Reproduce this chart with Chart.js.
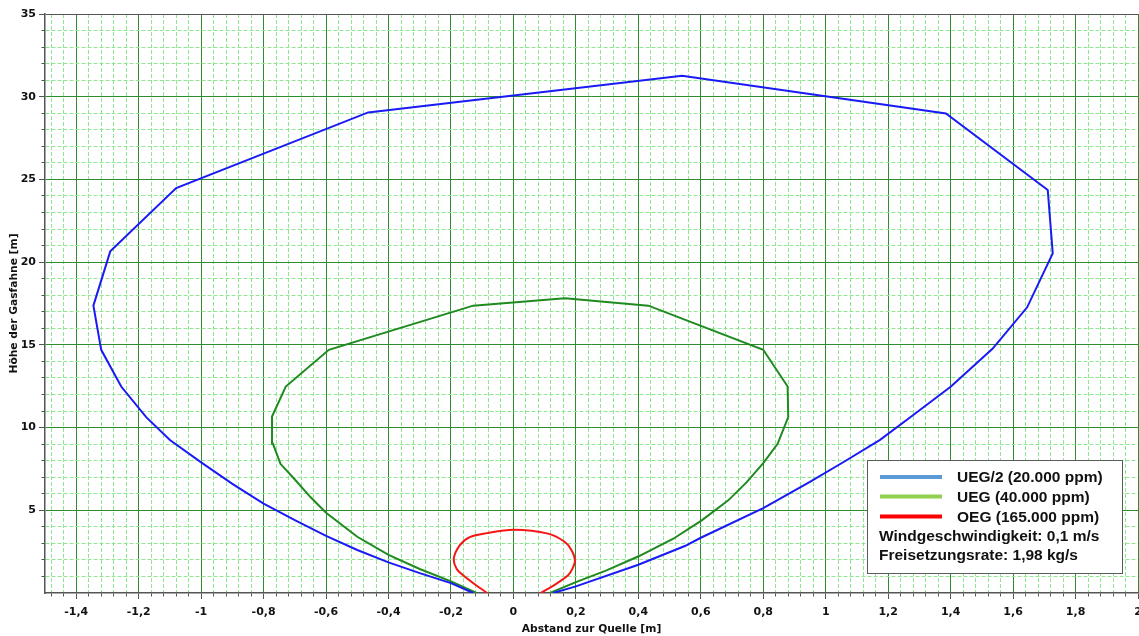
<!DOCTYPE html>
<html>
<head>
<meta charset="utf-8">
<script src="https://cdn.jsdelivr.net/npm/chart.js@4.4.1/dist/chart.umd.min.js"></script>
<style>
  html, body { margin: 0; padding: 0; background: #ffffff; }
  canvas { display: block; }
</style>
</head>
<body>
<canvas id="plume" width="1139" height="636"></canvas>
<script>
// Contours of the gas plume: x = distance to source [m], y = plume height [m]
const uegHalfX = [-0.129, -0.2, -0.3, -0.4, -0.5, -0.6, -0.7, -0.8, -0.9, -1.0, -1.1, -1.176, -1.256, -1.320, -1.345, -1.291, -1.080, -0.465, 0.540, 1.385, 1.711, 1.727, 1.645, 1.534, 1.401, 1.274, 1.174, 1.06, 0.948, 0.8, 0.6, 0.549, 0.4, 0.2, 0.127];
const uegHalfY = [0, 0.6, 1.2, 1.85, 2.6, 3.45, 4.4, 5.4, 6.6, 7.9, 9.25, 10.63, 12.48, 14.70, 17.37, 20.65, 24.48, 29.05, 31.26, 28.99, 24.36, 20.53, 17.27, 14.76, 12.48, 10.67, 9.26, 7.95, 6.70, 5.13, 3.34, 2.84, 1.71, 0.40, 0];

const uegX = [-0.118, -0.2, -0.3, -0.4, -0.5, -0.6, -0.65, -0.7, -0.746, -0.770, -0.773, -0.729, -0.591, -0.129, 0.165, 0.432, 0.800, 0.878, 0.880, 0.846, 0.800, 0.747, 0.688, 0.603, 0.512, 0.401, 0.298, 0.2, 0.117];
const uegY = [0, 0.7, 1.45, 2.3, 3.4, 4.85, 5.8, 6.86, 7.81, 9.02, 10.67, 12.48, 14.70, 17.37, 17.82, 17.37, 14.70, 12.48, 10.63, 9.02, 7.85, 6.70, 5.60, 4.39, 3.28, 2.22, 1.37, 0.66, 0];

const oegX = [-0.084, -0.124, -0.161, -0.182, -0.191, -0.172, -0.14, -0.086, 0, 0.111, 0.165, 0.186, 0.197, 0.189, 0.175, 0.138, 0.087];
const oegY = [0, 0.53, 1.07, 1.47, 2.08, 2.88, 3.38, 3.62, 3.83, 3.59, 3.08, 2.58, 1.97, 1.47, 1.07, 0.57, 0];

const seriesLabels = ['UEG/2 (20.000 ppm)', 'UEG (40.000 ppm)', 'OEG (165.000 ppm)'];
const infoLines = ['Windgeschwindigkeit: 0,1 m/s', 'Freisetzungsrate: 1,98 kg/s'];

// Axis ticks
const xMajorTicks = [-1.4, -1.2, -1, -0.8, -0.6, -0.4, -0.2, 0, 0.2, 0.4, 0.6, 0.8, 1, 1.2, 1.4, 1.6, 1.8, 2];
const xTickLabels = ['-1,4', '-1,2', '-1', '-0,8', '-0,6', '-0,4', '-0,2', '0', '0,2', '0,4', '0,6', '0,8', '1', '1,2', '1,4', '1,6', '1,8', '2'];
const yMajorTicks = [5, 10, 15, 20, 25, 30, 35];
const yTickLabels = ['5', '10', '15', '20', '25', '30', '35'];

// minor subdivisions: 0.04 m horizontally, 1 m vertically
const xMinorTicks = [];
for (let i = -37; i <= 50; i++) xMinorTicks.push(+(i * 0.04).toFixed(2));
const yMinorTicks = [];
for (let i = 1; i <= 35; i++) yMinorTicks.push(i);

const toPoints = (xs, ys) => xs.map((x, i) => ({ x, y: ys[i] }));
const majorIndex = (list, v) => list.findIndex(t => Math.abs(t - v) < 1e-6);

const MAJOR_GRID = '#2f8c2f';
const MINOR_GRID = '#92e592';
const AXIS_GREY = '#555555';
const TICK_FONT = { family: '"DejaVu Sans", sans-serif', size: 11, weight: 'bold' };
const TITLE_FONT = { family: '"DejaVu Sans", sans-serif', size: 10.7, weight: 'bold' };

function gridFor(majors, maxVal) {
  return {
    color: ctx => {
      if (!ctx.tick) return MINOR_GRID;
      if (Math.abs(ctx.tick.value - maxVal) < 1e-6) return AXIS_GREY;
      return majorIndex(majors, ctx.tick.value) >= 0 ? MAJOR_GRID : MINOR_GRID;
    },
    lineWidth: 1,
    tickColor: AXIS_GREY,
    tickLength: 6,
    tickWidth: 1
  };
}

const legendPlugin = {
  id: 'plumeLegend',
  afterDraw(chart) {
    const { ctx } = chart;
    const colors = ['#5b9bd5', '#92d050', '#ff0000'];
    const bx = 867.5, by = 460.5, bw = 255, bh = 113;
    ctx.save();
    ctx.fillStyle = '#ffffff';
    ctx.fillRect(bx, by, bw, bh);
    ctx.strokeStyle = '#5a5a5a';
    ctx.lineWidth = 1;
    ctx.strokeRect(bx, by, bw, bh);
    ctx.font = 'bold 15.5px "Liberation Sans", Arial, sans-serif';
    ctx.textBaseline = 'middle';
    ctx.fillStyle = '#111111';
    const rowY = [478, 497.5, 517.5, 537, 556];
    seriesLabels.forEach((label, i) => {
      ctx.strokeStyle = colors[i];
      ctx.lineWidth = 4;
      ctx.beginPath();
      ctx.moveTo(880, rowY[i] - 1);
      ctx.lineTo(942, rowY[i] - 1);
      ctx.stroke();
      ctx.fillText(label, 957, rowY[i]);
    });
    infoLines.forEach((line, i) => {
      ctx.fillText(line, 879, rowY[3 + i]);
    });
    ctx.restore();
  }
};

new Chart(document.getElementById('plume'), {
  type: 'scatter',
  data: {
    datasets: [
      { label: seriesLabels[0], data: toPoints(uegHalfX, uegHalfY), borderColor: '#1a1af5', borderWidth: 2, showLine: true, pointRadius: 0, tension: 0, fill: false },
      { label: seriesLabels[1], data: toPoints(uegX, uegY), borderColor: '#1f8a1f', borderWidth: 2, showLine: true, pointRadius: 0, tension: 0, fill: false },
      { label: seriesLabels[2], data: toPoints(oegX, oegY), borderColor: '#f51616', borderWidth: 2, showLine: true, pointRadius: 0, tension: 0.3, fill: false }
    ]
  },
  options: {
    responsive: false,
    animation: false,
    devicePixelRatio: 1,
    layout: { padding: { top: 14, right: 1, left: 0, bottom: 0 } },
    plugins: { legend: { display: false }, tooltip: { enabled: false } },
    scales: {
      x: {
        type: 'linear',
        min: -1.5,
        max: 2,
        afterBuildTicks: scale => { scale.ticks = xMinorTicks.map(v => ({ value: v })); },
        afterFit: scale => { scale.height = 43; scale.paddingLeft = 0; scale.paddingRight = 0; },
        ticks: {
          autoSkip: false,
          maxRotation: 0,
          padding: 7,
          color: '#111111',
          font: TICK_FONT,
          callback: v => { const i = majorIndex(xMajorTicks, v); return i >= 0 ? xTickLabels[i] : ''; }
        },
        grid: Object.assign(gridFor(xMajorTicks, 99), {
          tickBorderDash: ctx => (ctx.tick && majorIndex(xMajorTicks, ctx.tick.value) < 0) ? [3, 100] : []
        }),
        border: {
          color: AXIS_GREY,
          width: 1.5,
          dash: ctx => (ctx.tick && majorIndex(xMajorTicks, ctx.tick.value) < 0) ? [4, 2] : []
        },
        title: { display: true, text: 'Abstand zur Quelle [m]', color: '#111111', font: TITLE_FONT, padding: { top: 0, bottom: 0 } }
      },
      y: {
        type: 'linear',
        min: 0,
        max: 35,
        afterBuildTicks: scale => { scale.ticks = yMinorTicks.map(v => ({ value: v })); },
        afterFit: scale => { scale.width = 45; scale.paddingTop = 0; scale.paddingBottom = 0; },
        ticks: {
          autoSkip: false,
          padding: 3,
          color: '#111111',
          font: TICK_FONT,
          callback: v => { const i = majorIndex(yMajorTicks, v); return i >= 0 ? yTickLabels[i] : ''; }
        },
        grid: Object.assign(gridFor(yMajorTicks, 35), {
          tickBorderDash: ctx => (ctx.tick && majorIndex(yMajorTicks, ctx.tick.value) < 0) ? [0, 2.5, 4, 100] : []
        }),
        border: {
          color: AXIS_GREY,
          width: 1.5,
          dash: ctx => (ctx.tick && majorIndex(yMajorTicks, ctx.tick.value) < 0 && ctx.tick.value !== 35) ? [4, 2] : []
        },
        title: { display: true, text: 'Höhe der Gasfahne [m]', color: '#111111', font: TITLE_FONT, padding: { top: 8, bottom: 0 } }
      }
    }
  },
  plugins: [legendPlugin]
});
</script>
</body>
</html>
